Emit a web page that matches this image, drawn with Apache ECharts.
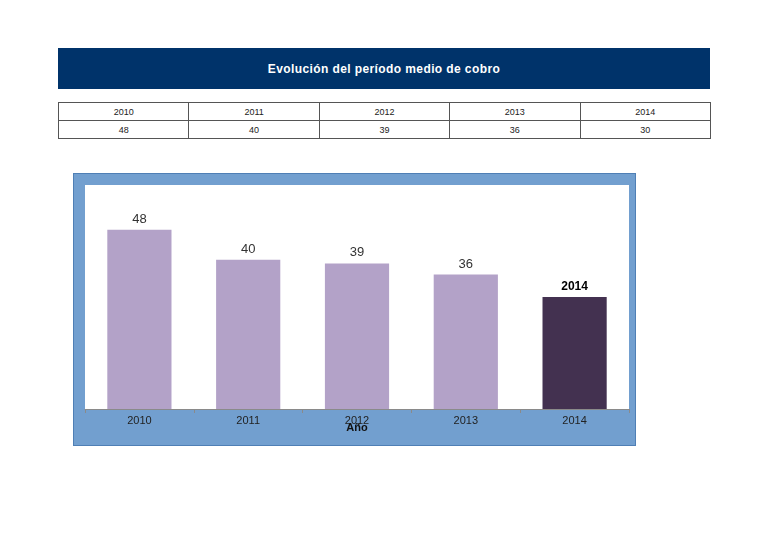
<!DOCTYPE html>
<html>
<head>
<meta charset="utf-8">
<script src="https://cdn.jsdelivr.net/npm/echarts@6/dist/echarts.min.js"></script>
<style>
  body { margin: 0; background: #fff; font-family: "Liberation Sans", Arial, sans-serif; }
  #banner {
    position: absolute; left: 58px; top: 48px; width: 652px; height: 41px;
    background: #00336a; color: #fff; font-weight: bold; font-size: 12px;
    text-align: center; line-height: 43px; letter-spacing: 0.4px;
  }
  #tbl {
    position: absolute; left: 58px; top: 102px; width: 653px;
    border-collapse: collapse; font-size: 9px; color: #222;
  }
  #tbl td { border: 1px solid #555; text-align: center; height: 17px; padding: 0; width: 20%; }
  #main {
    position: absolute; left: 73px; top: 173px; width: 561px; height: 271px;
    border: 1px solid #4f7fb5;
  }
</style>
</head>
<body>
<div id="banner">Evolución del período medio de cobro</div>
<table id="tbl"><tr id="rowYears"></tr><tr id="rowVals"></tr></table>
<div id="main"></div>
<script>
var years = ['2010', '2011', '2012', '2013', '2014'];
var plazo = [48, 40, 39, 36, 30];

// tabla de arriba
var ry = document.getElementById('rowYears');
var rv = document.getElementById('rowVals');
years.forEach(function (y, i) {
  ry.insertCell().textContent = y;
  rv.insertCell().textContent = plazo[i];
});

var chartDom = document.getElementById('main');
var myChart = echarts.init(chartDom);
var option;

var barData = plazo.map(function (v, i) {
  if (i === plazo.length - 1) {
    return {
      value: v,
      itemStyle: { color: '#433150' },
      label: { formatter: '{b}', fontWeight: 'bold', color: '#000', fontSize: 12 }
    };
  }
  return v;
});

option = {
  backgroundColor: '#729fcf',
  animation: false,
  grid: {
    left: 11, top: 11, right: 6, bottom: 36,
    outerBoundsMode: 'none',
    show: true, backgroundColor: '#fff', borderWidth: 0
  },
  xAxis: {
    type: 'category',
    data: years,
    name: 'Año',
    nameLocation: 'middle',
    nameGap: 13,
    nameMoveOverlap: false,
    nameTextStyle: { fontWeight: 'bold', fontSize: 11, color: '#111', fontFamily: 'Liberation Sans' },
    axisLine: { lineStyle: { color: '#8a8a8a' } },
    axisTick: { show: true, length: 4, lineStyle: { color: '#8a8a8a' } },
    axisLabel: { color: '#222', fontSize: 11, margin: 6, fontFamily: 'Liberation Sans' }
  },
  yAxis: {
    type: 'value',
    min: 0,
    max: 60,
    show: false
  },
  series: [
    {
      type: 'bar',
      data: barData,
      barWidth: '59%',
      itemStyle: { color: '#b3a2c8' },
      label: {
        show: true,
        position: 'top',
        distance: 4,
        color: '#333',
        fontSize: 13,
        fontFamily: 'Liberation Sans'
      }
    }
  ]
};

option && myChart.setOption(option);
</script>
</body>
</html>
